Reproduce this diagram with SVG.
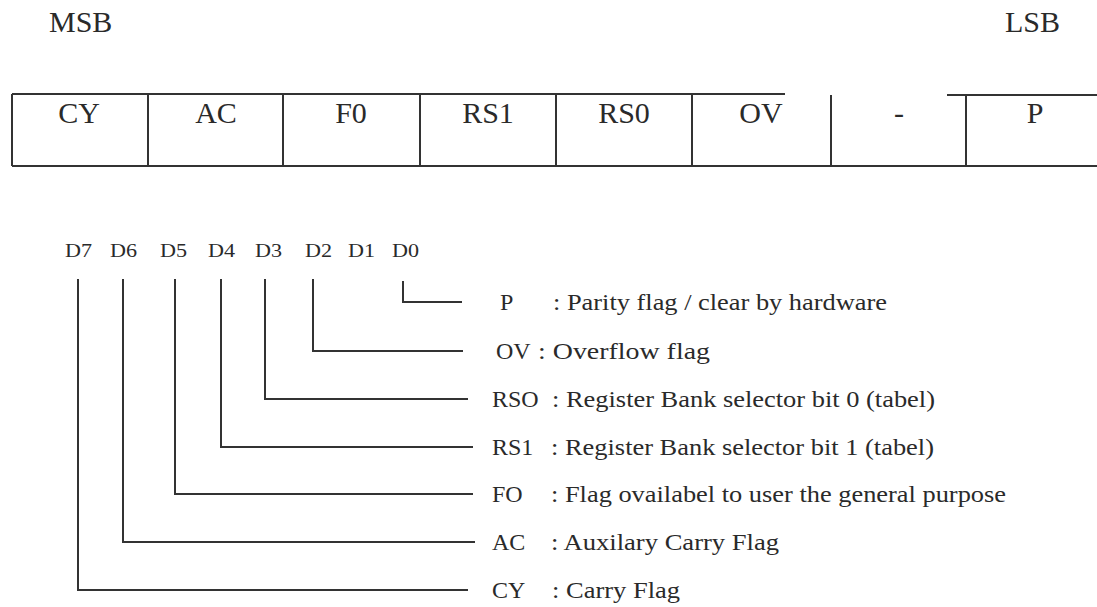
<svg xmlns="http://www.w3.org/2000/svg" width="1097" height="607" viewBox="0 0 1097 607">
<style>
.t{font-family:"Liberation Serif","Times New Roman",serif;fill:#2a2a2a}
.big{font-size:30px}
.cell{font-size:30px;text-anchor:middle}
.d{font-size:18px}
.lab{font-size:24px}
.ln{stroke:#333;stroke-width:2;fill:none}
</style>
<rect width="1097" height="607" fill="#fff"/>
<g id="msb"><text class="t big" x="49" y="32">MSB</text></g>
<g id="lsb"><text class="t big" x="1005" y="32">LSB</text></g>
<g id="register">
<path class="ln" d="M12 94 H785 M947 95 H1097 M12 166 H1097 M12 94 V166 M148 94 V166 M283 94 V166 M420 94 V166 M556 94 V166 M692 94 V166 M831 95 V166 M966 95 V166"/>
<text class="t cell" x="79" y="123">CY</text>
<text class="t cell" x="216" y="123">AC</text>
<text class="t cell" x="351" y="123">F0</text>
<text class="t cell" x="488" y="123">RS1</text>
<text class="t cell" x="624" y="123">RS0</text>
<text class="t cell" x="761" y="123">OV</text>
<text class="t cell" x="899" y="123">-</text>
<text class="t cell" x="1035" y="123">P</text>
</g>
<g id="bits">
<text class="t d" x="65" y="257" textLength="27" lengthAdjust="spacingAndGlyphs">D7</text>
<text class="t d" x="110" y="257" textLength="27" lengthAdjust="spacingAndGlyphs">D6</text>
<text class="t d" x="160" y="257" textLength="27" lengthAdjust="spacingAndGlyphs">D5</text>
<text class="t d" x="208" y="257" textLength="27" lengthAdjust="spacingAndGlyphs">D4</text>
<text class="t d" x="255" y="257" textLength="27" lengthAdjust="spacingAndGlyphs">D3</text>
<text class="t d" x="305" y="257" textLength="27" lengthAdjust="spacingAndGlyphs">D2</text>
<text class="t d" x="348" y="257" textLength="27" lengthAdjust="spacingAndGlyphs">D1</text>
<text class="t d" x="392" y="257" textLength="27" lengthAdjust="spacingAndGlyphs">D0</text>
</g>
<g id="connectors">
<path class="ln" d="M403 281 V302 H462"/>
<path class="ln" d="M313 279 V351 H463"/>
<path class="ln" d="M265 279 V399 H468"/>
<path class="ln" d="M221 279 V447 H473"/>
<path class="ln" d="M175 279 V494 H473"/>
<path class="ln" d="M123 279 V542 H475"/>
<path class="ln" d="M78 279 V590 H468"/>
</g>
<g id="p"><text class="t lab" x="500" y="310">P</text><text class="t lab" x="553" y="310" textLength="334" lengthAdjust="spacingAndGlyphs">: Parity flag / clear by hardware</text></g>
<g id="ov"><text class="t lab" x="496" y="359">OV</text><text class="t lab" x="538" y="359" textLength="172" lengthAdjust="spacingAndGlyphs">: Overflow flag</text></g>
<g id="rs0"><text class="t lab" x="492" y="407">RSO</text><text class="t lab" x="552" y="407" textLength="383" lengthAdjust="spacingAndGlyphs">: Register Bank selector bit 0 (tabel)</text></g>
<g id="rs1"><text class="t lab" x="492" y="455">RS1</text><text class="t lab" x="551" y="455" textLength="383" lengthAdjust="spacingAndGlyphs">: Register Bank selector bit 1 (tabel)</text></g>
<g id="f0"><text class="t lab" x="492" y="502">FO</text><text class="t lab" x="551" y="502" textLength="455" lengthAdjust="spacingAndGlyphs">: Flag ovailabel to user the general purpose</text></g>
<g id="ac"><text class="t lab" x="492" y="550">AC</text><text class="t lab" x="551" y="550" textLength="228" lengthAdjust="spacingAndGlyphs">: Auxilary Carry Flag</text></g>
<g id="cy"><text class="t lab" x="492" y="598">CY</text><text class="t lab" x="552" y="598" textLength="128" lengthAdjust="spacingAndGlyphs">: Carry Flag</text></g>
</svg>
